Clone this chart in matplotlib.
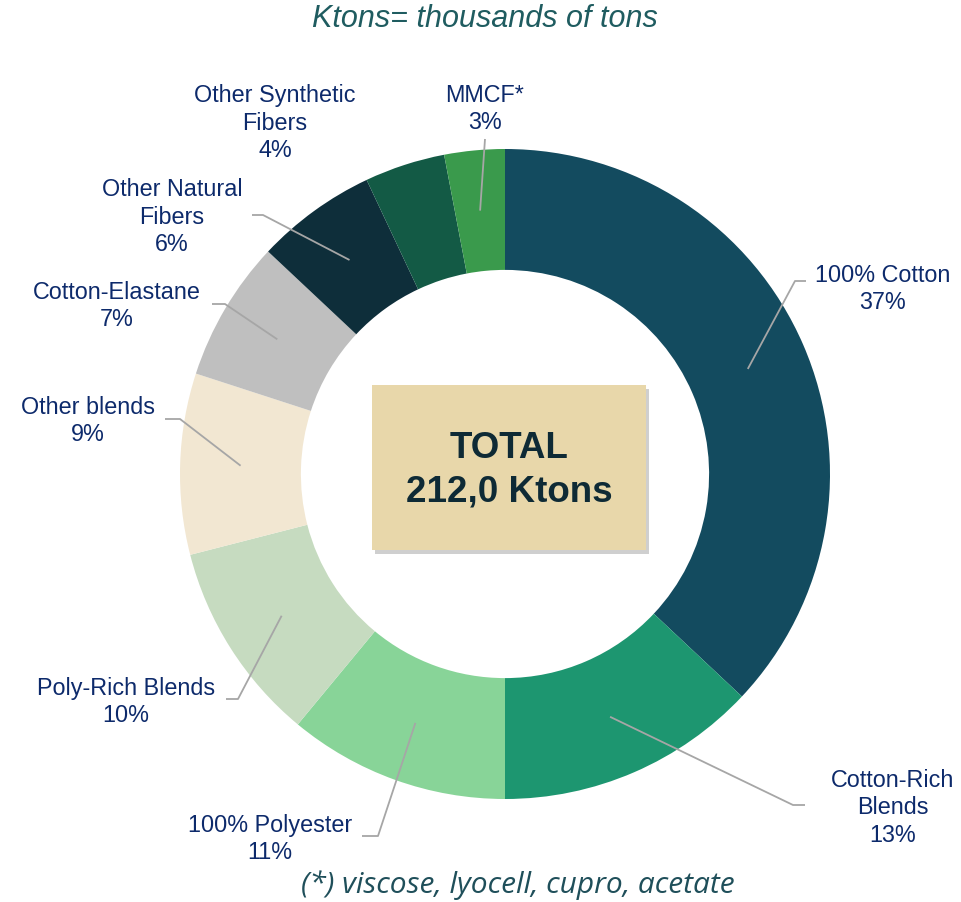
import numpy as np
import matplotlib.pyplot as plt
from matplotlib.patches import Rectangle
import matplotlib.patheffects as pe

# data
labels = ['100% Cotton', 'Cotton-Rich\nBlends', '100% Polyester', 'Poly-Rich Blends',
          'Other blends', 'Cotton-Elastane', 'Other Natural\nFibers',
          'Other Synthetic\nFibers', 'MMCF*']
shares = [37, 13, 11, 10, 9, 7, 6, 4, 3]
colors = ['#134B5F', '#1D9670', '#88D498', '#C6DBC0', '#F2E7D2',
          '#BFBFBF', '#0E2E3A', '#135A45', '#3A9A4C']
total_ktons = 212.0

W, H = 961, 903
fig = plt.figure(figsize=(W / 100, H / 100), dpi=100)
ax = fig.add_axes([0, 0, 1, 1])

cx, cy = 505, H - 475
R = 325
ring = 0.372

wedges, _ = ax.pie(shares, colors=colors, startangle=90, counterclock=False,
                   radius=R, center=(cx, cy), frame=True,
                   wedgeprops=dict(width=R * ring, linewidth=0))
ax.set_xlim(0, W)
ax.set_ylim(0, H)
ax.set_aspect('equal')
ax.axis('off')

# label positions (pixel coords from top) : elbow point, line end, text pos
label_pos = [
    ((795, 282), (806, 282), (883, 289)),
    ((793, 806), (805, 806), (893, 808)),
    ((378, 837), (362, 837), (270, 839)),
    ((238, 700), (226, 700), (126, 702)),
    ((180, 420), (165, 420), (88, 421)),
    ((225, 305), (212, 305), (117, 306)),
    ((263, 216), (252, 216), (172, 217)),
    (None, None, (275, 123)),
    ((485, 140), (485, 140), (485, 109)),
]

cum = np.cumsum([0] + shares)
tot = sum(shares)
rmid = R * (1 - ring / 2)
for i, (lab, s) in enumerate(zip(labels, shares)):
    mid = (cum[i] + s / 2) / tot
    ang = np.deg2rad(90 - 360 * mid)
    px, py = cx + rmid * np.cos(ang), cy + rmid * np.sin(ang)
    elbow, end, tpos = label_pos[i]
    if elbow is not None:
        ax.plot([px, elbow[0], end[0]], [py, H - elbow[1], H - end[1]],
                color='#A6A6A6', lw=1.3, solid_capstyle='butt')
    pct = round(100 * s / tot)
    ax.text(tpos[0], H - tpos[1], f'{lab}\n{pct}%', ha='center', va='center',
            fontsize=16.8, color='#0D2A6B', family='Liberation Sans',
            linespacing=1.27)

# center box
box = Rectangle((372, H - 551), 274, 165, facecolor='#E8D7AA', edgecolor='none',
                path_effects=[pe.withSimplePatchShadow(offset=(2, -3),
                                                       shadow_rgbFace='#888888',
                                                       alpha=0.4)])
ax.add_patch(box)
ax.text(509, H - 470, f'TOTAL\n{total_ktons:.1f} Ktons'.replace('.', ','),
        ha='center', va='center', fontsize=26.5, fontweight='bold',
        color='#0E2A35', family='Liberation Sans', linespacing=1.3)

ax.text(485, H - 19, 'Ktons= thousands of tons', ha='center', va='center',
        fontsize=22, style='italic', color='#1F5C60', family='Liberation Sans')
ax.text(518, H - 885, '(*) viscose, lyocell, cupro, acetate', ha='center',
        va='center', fontsize=21.5, style='italic', color='#1F4F5A',
        family='Open Sans')

fig.savefig('out.png', dpi=100)
